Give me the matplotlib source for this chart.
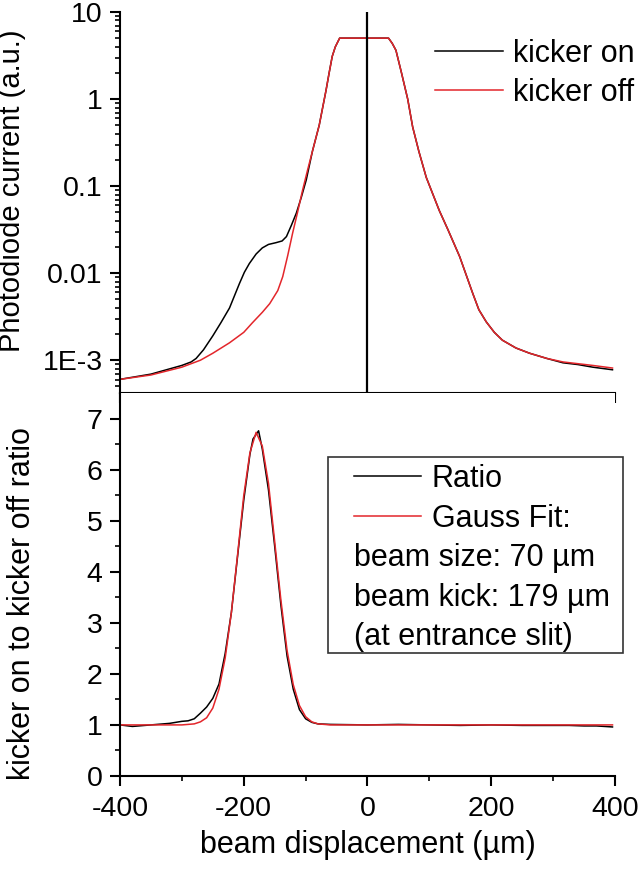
import matplotlib
matplotlib.use("Agg")
import matplotlib.pyplot as plt
from matplotlib.patches import Rectangle

plt.rcParams['font.family'] = ['Liberation Sans', 'DejaVu Sans']
plt.rcParams['axes.unicode_minus'] = False

RED = '#e3262b'
FS = 22      # labels and legend
FS_TICK = 20.5

# top panel: photodiode current (log10 values)
x_off = [-400, -350, -300, -270, -250, -223, -200, -186, -170, -158, -145, -137,
         -129, -121, -113, -105, -97, -89, -78, -67, -62, -57, -52, -45, 34, 40,
         46, 55, 65, 73, 83, 95, 116, 130, 149, 170, 180, 192, 205, 218, 240, 262,
         290, 316, 340, 364, 396]
log_off = [-3.22, -3.17, -3.08, -3.0, -2.92, -2.80, -2.68, -2.57, -2.45, -2.35, -2.2, -2.04,
           -1.8, -1.54, -1.3, -1.05, -0.82, -0.6, -0.3, 0.10, 0.3, 0.49, 0.6, 0.70, 0.70, 0.64,
           0.56, 0.3, 0.0, -0.32, -0.6, -0.9, -1.28, -1.5, -1.81, -2.23, -2.42, -2.56, -2.68,
           -2.77, -2.86, -2.92, -2.98, -3.02, -3.04, -3.06, -3.09]

x_on = [-400, -350, -320, -300, -285, -277, -265, -250, -237, -223, -215, -207, -199,
        -191, -180, -170, -160, -148, -138, -131, -123, -115, -107, -99, -89, -78, -67,
        -62, -57, -52, -45, 34, 40, 46, 55, 65, 73, 83, 95, 116, 130, 149, 170, 180,
        192, 205, 218, 240, 262, 290, 316, 340, 364, 396]
log_on = [-3.22, -3.16, -3.10, -3.06, -3.02, -2.98, -2.88, -2.72, -2.57, -2.40, -2.26,
          -2.12, -1.99, -1.89, -1.78, -1.71, -1.67, -1.65, -1.63, -1.58, -1.45, -1.31,
          -1.13, -0.93, -0.6, -0.3, 0.10, 0.3, 0.49, 0.6, 0.70, 0.70, 0.64, 0.56, 0.3,
          0.0, -0.32, -0.6, -0.9, -1.28, -1.5, -1.81, -2.23, -2.42, -2.56, -2.68, -2.77,
          -2.86, -2.92, -2.98, -3.03, -3.05, -3.08, -3.11]

# bottom panel: ratio and gauss fit
x_ratio = [-400, -380, -350, -320, -300, -290, -280, -270, -260, -250, -240, -230, -220,
           -210, -200, -190, -185, -176, -170, -160, -150, -140, -130, -120, -110, -100,
           -90, -80, -60, 0, 50, 100, 150, 200, 250, 300, 326, 350, 370, 396]
ratio = [1.0, 0.97, 1.0, 1.03, 1.07, 1.08, 1.12, 1.23, 1.35, 1.52, 1.8, 2.4, 3.2,
         4.3, 5.4, 6.3, 6.6, 6.76, 6.4, 5.6, 4.5, 3.35, 2.35, 1.7, 1.3, 1.12,
         1.05, 1.02, 1.01, 1.0, 1.01, 1.0, 0.99, 1.0, 0.99, 0.99, 0.99, 0.98, 0.98, 0.96]

x_fit = [-400, -300, -290, -280, -270, -260, -250, -240, -230, -220, -210, -200, -190,
         -180, -170, -160, -150, -140, -130, -120, -110, -100, -90, -80, -70, -60, 396]
fit = [1.0, 1.0, 1.01, 1.02, 1.06, 1.14, 1.33, 1.70, 2.31, 3.20, 4.33, 5.49, 6.33,
       6.73, 6.46, 5.73, 4.59, 3.45, 2.46, 1.79, 1.38, 1.16, 1.06, 1.02, 1.01, 1.0, 1.0]

y_ticks_top = [1e-3, 1e-2, 1e-1, 1, 10]
y_labels_top = ['1E-3', '0.01', '0.1', '1', '10']
fit_notes = ['beam size: 70 µm', 'beam kick: 179 µm', '(at entrance slit)']


def style_axis(ax):
    for s in ['left', 'bottom']:
        ax.spines[s].set_linewidth(1.5)
    ax.spines['top'].set_visible(False)
    ax.spines['right'].set_visible(False)
    ax.tick_params(which='major', direction='out', length=7.5, width=1.5, labelsize=FS_TICK)
    ax.tick_params(which='minor', direction='out', length=3.8, width=1.2)
    ax.tick_params(axis='y', which='major', pad=5)
    ax.set_xlim(-400, 400)
    ax.set_xticks([-400, -200, 0, 200, 400])
    ax.set_xticks([-300, -100, 100, 300], minor=True)


def main():
    fig = plt.figure(figsize=(6.4, 8.71), dpi=100)
    ax1 = fig.add_axes([0.1875, 0.5488, 0.7734, 0.4374])
    ax2 = fig.add_axes([0.1875, 0.1091, 0.7734, 0.4397])

    # top panel
    ax1.plot(x_on, [10 ** v for v in log_on], color='black', lw=1.1, label='kicker on')
    ax1.plot(x_off, [10 ** v for v in log_off], color=RED, lw=1.1, label='kicker off')
    ax1.axvline(0, color='black', lw=1.6)
    ax1.set_yscale('log')
    ax1.set_ylim(4.2e-4, 10)
    ax1.set_yticks(y_ticks_top)
    ax1.set_yticklabels(y_labels_top)
    style_axis(ax1)
    ax1.tick_params(axis='x', labelbottom=False)
    ax1.set_ylabel('Photodiode current (a.u.)', fontsize=21)
    ax1.yaxis.set_label_coords(-0.19, 0.53)
    ax1.legend(loc='upper left', bbox_to_anchor=(0.636, 0.93), frameon=False, fontsize=FS,
               handlelength=2.22, handletextpad=0.33, labelspacing=0.3, borderpad=0,
               borderaxespad=0)

    # bottom panel
    ax2.plot(x_ratio, ratio, color='black', lw=1.1, label='Ratio')
    ax2.plot(x_fit, fit, color=RED, lw=1.1, label='Gauss Fit:')
    ax2.set_ylim(0, 7.5)
    ax2.set_yticks(range(8))
    ax2.set_yticks([0.5 + i for i in range(7)], minor=True)
    style_axis(ax2)
    ax2.tick_params(axis='x', which='major', pad=7)
    ax2.set_ylabel('kicker on to kicker off ratio', fontsize=FS)
    ax2.yaxis.set_label_coords(-0.168, 0.45)
    ax2.set_xlabel('beam displacement (µm)', fontsize=FS, labelpad=6)

    ax2.add_patch(Rectangle((0.420, 0.321), 0.596, 0.512, transform=ax2.transAxes,
                            fill=False, edgecolor='#333333', lw=1.2, clip_on=False))
    ax2.legend(loc='upper left', bbox_to_anchor=(0.472, 0.815), frameon=False, fontsize=FS,
               handlelength=2.22, handletextpad=0.33, labelspacing=0.32, borderpad=0,
               borderaxespad=0)
    for note, yy in zip(fit_notes, [0.569, 0.465, 0.363]):
        ax2.text(0.472, yy, note, transform=ax2.transAxes, fontsize=FS,
                 va='center', ha='left')

    fig.savefig('out.png', dpi=100)


if __name__ == "__main__":
    main()
